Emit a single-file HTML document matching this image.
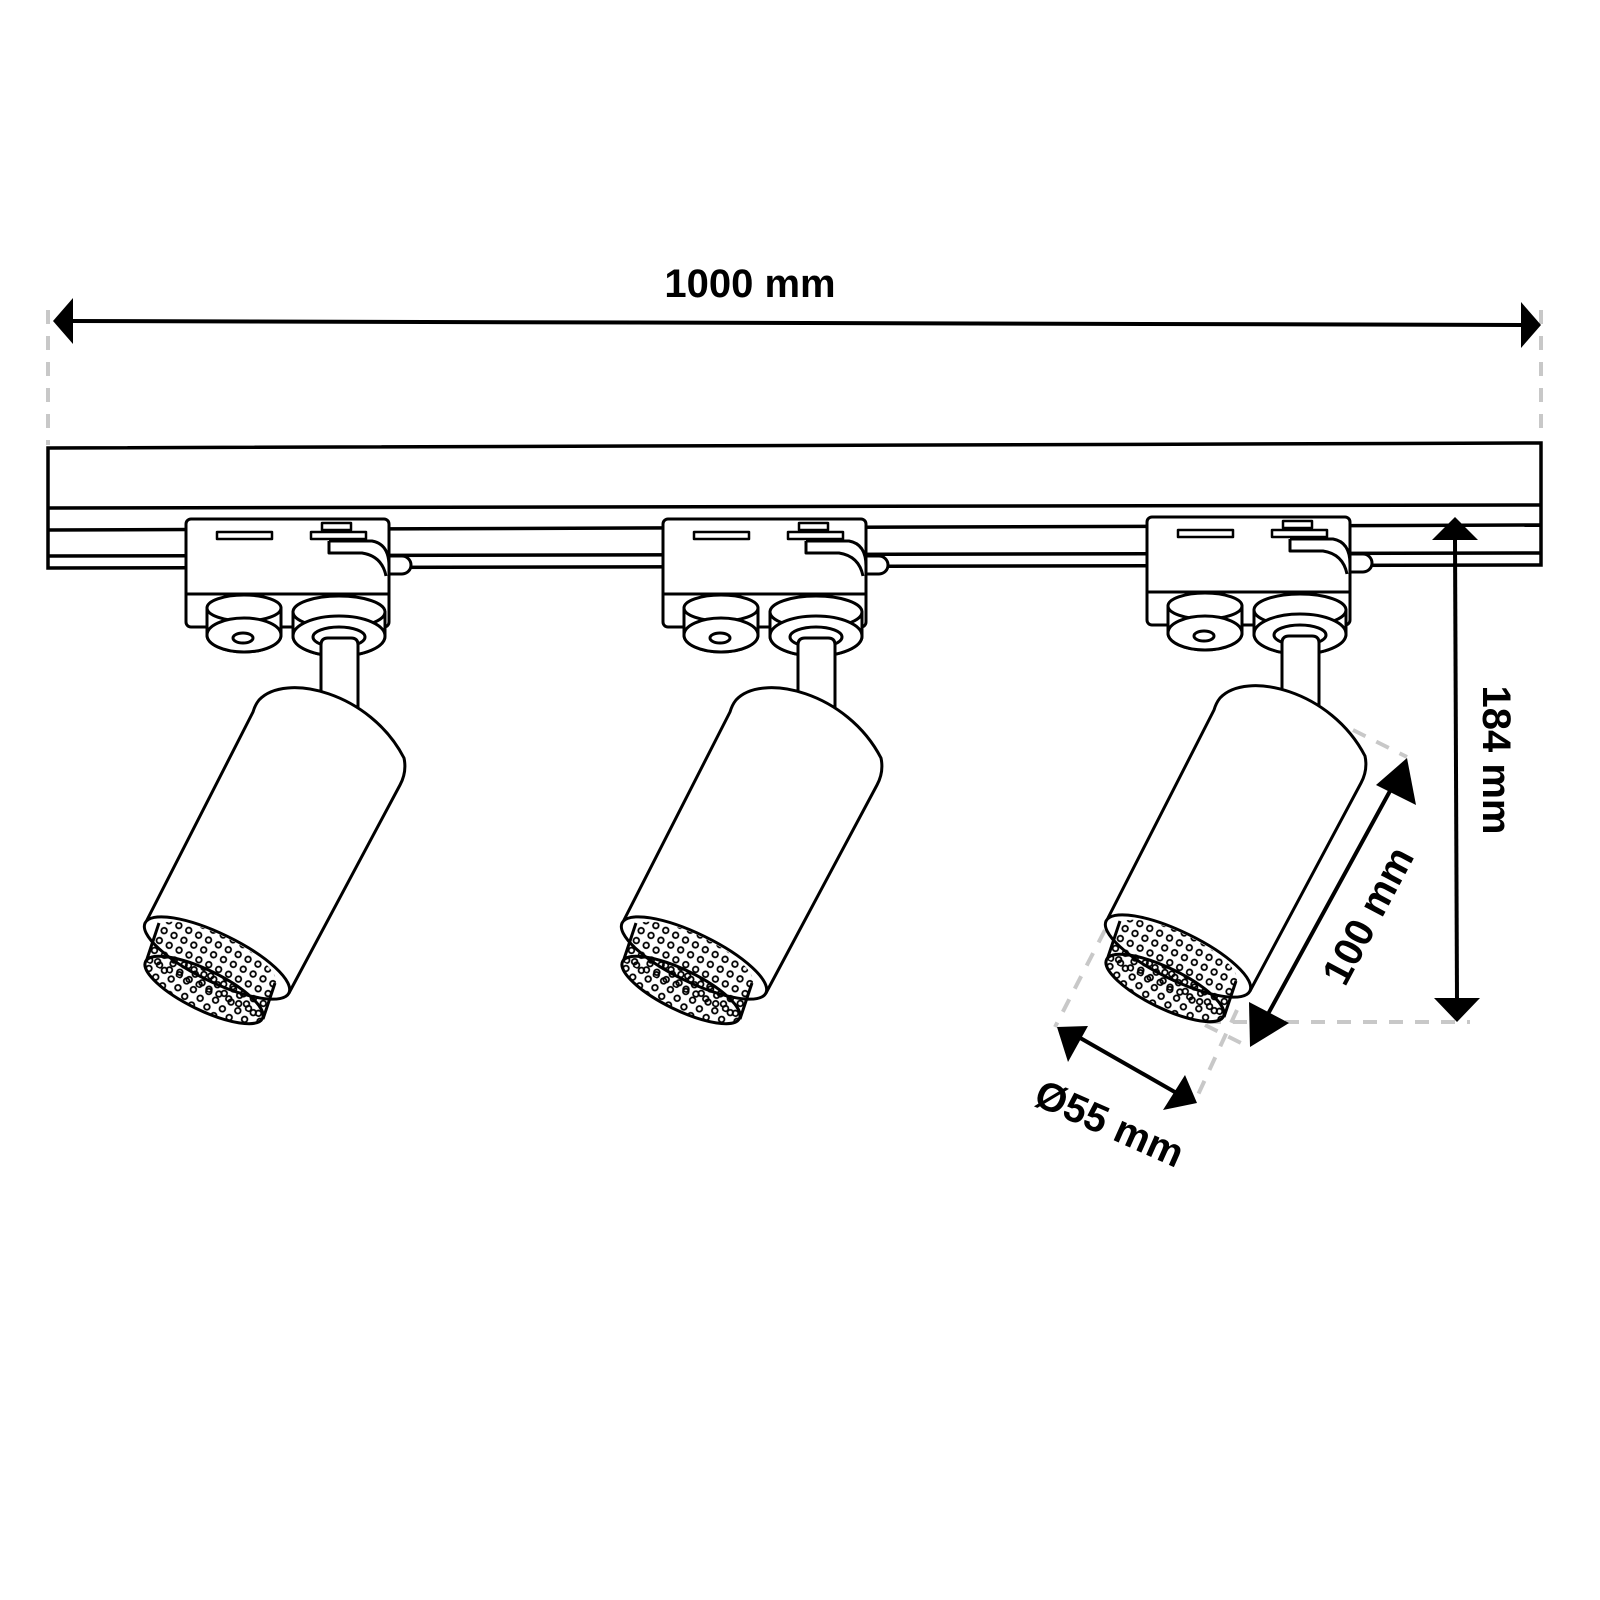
<!DOCTYPE html>
<html><head><meta charset="utf-8"><style>
html,body{margin:0;padding:0;background:#fff;}
svg{display:block;}
text{font-family:"Liberation Sans",sans-serif;font-weight:bold;fill:#000;}
</style></head><body>
<svg width="1600" height="1600" viewBox="0 0 1600 1600" xmlns="http://www.w3.org/2000/svg">
<defs>
<pattern id="dots" width="11" height="11" patternUnits="userSpaceOnUse" patternTransform="rotate(26)">
<circle cx="5.5" cy="5.5" r="2.8" fill="none" stroke="#000" stroke-width="1.8"/>
</pattern>
<g id="spot" stroke="#000" stroke-width="3" fill="#fff" stroke-linejoin="round">
  <path d="M386,556 H402 A9,9 0 0 1 402,574 H386 Z"/>
  <rect x="186" y="519" width="203" height="108" rx="5"/>
  <line x1="186" y1="594" x2="389" y2="594"/>
  <rect x="217" y="532" width="55" height="7" stroke-width="2.5"/>
  <rect x="311" y="532" width="55" height="7" stroke-width="2.5"/>
  <rect x="322" y="523" width="29" height="7" stroke-width="2.5"/>
  <path d="M329,541 H372 Q389,544 389,566" fill="none"/>
  <path d="M329,541 V553 H362 Q382,556 386,576" fill="none"/>
  <path d="M207,608 V635 A37,17 0 0 0 281,635 V608 Z"/>
  <ellipse cx="244" cy="608" rx="37" ry="13"/>
  <ellipse cx="244" cy="635" rx="37" ry="17"/>
  <ellipse cx="243" cy="638" rx="10" ry="5"/>
  <path d="M293,612 V636 A46,20 0 0 0 385,636 V612 Z"/>
  <ellipse cx="339" cy="612" rx="46" ry="16"/>
  <ellipse cx="339" cy="636" rx="46" ry="20"/>
  <ellipse cx="339" cy="637" rx="26" ry="10"/>
  <path d="M321,645 Q321,638 328,638 H351 Q358,638 358,645 V720 H321 Z"/>
  <path d="M259,700 C285,672 370,692 404,758 Q407,772 400,785 L289,993 L147,920 L253,712 Q255,705 259,700 Z"/>
  <ellipse cx="217" cy="958" rx="80" ry="24" transform="rotate(26 217 958)"/>
  <path d="M160,925 L146,962 L262,1019 L276,982 A65,20 26 0 0 160,925 Z" fill="url(#dots)" stroke="none"/>
  <line x1="159" y1="923" x2="146" y2="962"/>
  <line x1="275" y1="983" x2="263" y2="1019"/>
  <ellipse cx="204" cy="990" rx="65" ry="20" transform="rotate(26 204 990)" fill="url(#dots)"/>
</g>
</defs>

<g stroke="#c8c8c8" stroke-width="4" stroke-dasharray="14,12" fill="none">
  <line x1="48" y1="310" x2="48" y2="445"/>
  <line x1="1541" y1="310" x2="1541" y2="440"/>
  <line x1="1350" y1="516" x2="1453" y2="516"/>
  <line x1="1207" y1="1022" x2="1470" y2="1022"/>
  <line x1="1353" y1="730" x2="1407" y2="757"/>
  <line x1="1105" y1="930" x2="1055" y2="1027"/>
  <line x1="1237" y1="1010" x2="1197" y2="1097"/>
  <line x1="1205" y1="1025" x2="1245" y2="1045"/>
</g>

<g stroke="#000" stroke-width="3.5" fill="none">
  <path d="M48,568 V448 L1541,443 V565 Z" fill="#fff"/>
  <line x1="48" y1="508" x2="1541" y2="505"/>
  <line x1="48" y1="530" x2="1541" y2="525"/>
  <line x1="48" y1="556" x2="1541" y2="553"/>
</g>

<use href="#spot"/>
<use href="#spot" transform="translate(477,0)"/>
<use href="#spot" transform="translate(961,-2)"/>

<g stroke="#000" stroke-width="4" fill="#000">
  <line x1="70" y1="321" x2="1522" y2="325"/>
  <polygon points="53,321 73,298 73,344" stroke="none"/>
  <polygon points="1541,325 1521,302 1521,348" stroke="none"/>

  <line x1="1455" y1="540" x2="1457" y2="1000"/>
  <polygon points="1455,517 1432,540 1478,540" stroke="none"/>
  <polygon points="1457,1022 1434,998 1480,998" stroke="none"/>

  <line x1="1396" y1="780" x2="1262" y2="1025"/>
  <polygon points="1407,758 1376,785 1416,805" stroke="none"/>
  <polygon points="1250,1047 1249,1002 1289,1023" stroke="none"/>

  <line x1="1075" y1="1035" x2="1180" y2="1095"/>
  <polygon points="1057,1027 1068,1062 1088,1026" stroke="none"/>
  <polygon points="1197,1103 1163,1110 1185,1075" stroke="none"/>
</g>

<text x="750" y="297" font-size="40" text-anchor="middle">1000 mm</text>
<text transform="translate(1483,760) rotate(90)" font-size="40" text-anchor="middle">184 mm</text>
<text transform="translate(1380,922) rotate(-62)" font-size="40" text-anchor="middle">100 mm</text>
<text transform="translate(1104,1136) rotate(24)" font-size="40" text-anchor="middle">Ø55 mm</text>
</svg>
</body></html>
